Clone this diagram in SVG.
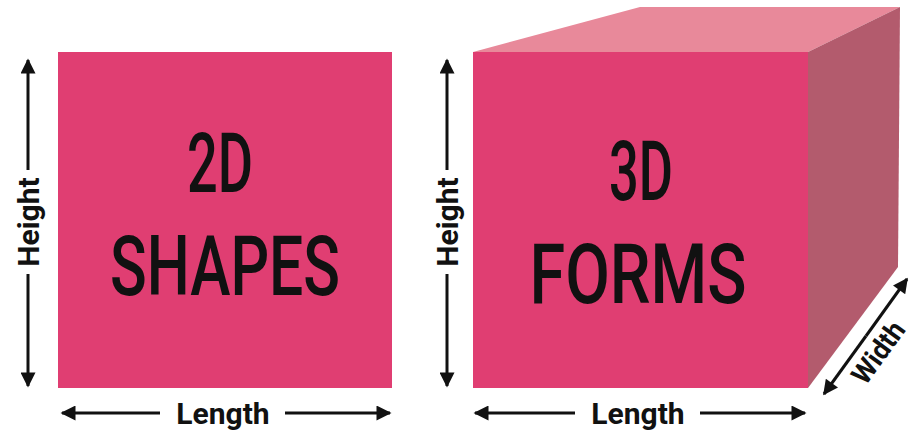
<svg xmlns="http://www.w3.org/2000/svg" width="915" height="431" viewBox="0 0 915 431">
<defs>
<marker id="ah" viewBox="0 0 10 10" refX="9" refY="5" markerWidth="5.5" markerHeight="5" orient="auto-start-reverse" markerUnits="strokeWidth">
<path d="M0,0 L10,5 L0,10 Z" fill="#111"/>
</marker>
<style>
.front{fill:#E03E72}
.top{fill:#E8899A}
.side{fill:#B35B6D}
.dim{stroke:#111;stroke-width:3;fill:none}
.lbl{font-family:Roboto,"Liberation Sans",sans-serif;font-weight:700;font-size:30px;fill:#111}
.big{font-family:Roboto,"Liberation Sans",sans-serif;font-weight:500;font-size:84px;fill:#111}
</style>
</defs>
<rect width="915" height="431" fill="#fff"/>
<g id="shape2d">
<rect class="front" x="58" y="52" width="334" height="336"/>
<text class="big" x="220" y="192" text-anchor="middle" textLength="66" lengthAdjust="spacingAndGlyphs">2D</text>
<text class="big" x="225" y="295" text-anchor="middle" textLength="230" lengthAdjust="spacingAndGlyphs">SHAPES</text>
</g>
<g id="form3d">
<polygon class="top" points="473,52 640,7 900,7 808,52"/>
<polygon class="side" points="808,52 900,7 898,267 808,388"/>
<rect class="front" x="473" y="52" width="335" height="336"/>
<text class="big" x="641" y="200" text-anchor="middle" textLength="64" lengthAdjust="spacingAndGlyphs">3D</text>
<text class="big" x="638" y="303" text-anchor="middle" textLength="217" lengthAdjust="spacingAndGlyphs">FORMS</text>
</g>
<g id="connectors">
<line class="dim" x1="28" y1="170" x2="28" y2="60" marker-end="url(#ah)"/>
<line class="dim" x1="28" y1="274" x2="28" y2="386" marker-end="url(#ah)"/>
<line class="dim" x1="447" y1="170" x2="447" y2="60" marker-end="url(#ah)"/>
<line class="dim" x1="447" y1="274" x2="447" y2="386" marker-end="url(#ah)"/>
<line class="dim" x1="160" y1="413" x2="62" y2="413" marker-end="url(#ah)"/>
<line class="dim" x1="285" y1="413" x2="390" y2="413" marker-end="url(#ah)"/>
<line class="dim" x1="575" y1="413" x2="475" y2="413" marker-end="url(#ah)"/>
<line class="dim" x1="700" y1="413" x2="805" y2="413" marker-end="url(#ah)"/>
<line class="dim" x1="866" y1="336" x2="907" y2="279" marker-end="url(#ah)"/>
<line class="dim" x1="866" y1="336" x2="824" y2="394" marker-end="url(#ah)"/>
</g>
<g id="labels">
<text class="lbl" text-anchor="middle" transform="translate(39,222) rotate(-90)">Height</text>
<text class="lbl" text-anchor="middle" transform="translate(458,222) rotate(-90)">Height</text>
<text class="lbl" x="223" y="424" text-anchor="middle">Length</text>
<text class="lbl" x="638" y="424" text-anchor="middle">Length</text>
<text class="lbl" text-anchor="middle" style="font-size:28px" textLength="70" lengthAdjust="spacingAndGlyphs" transform="translate(886,358) rotate(-54)">Width</text>
</g>
</svg>
